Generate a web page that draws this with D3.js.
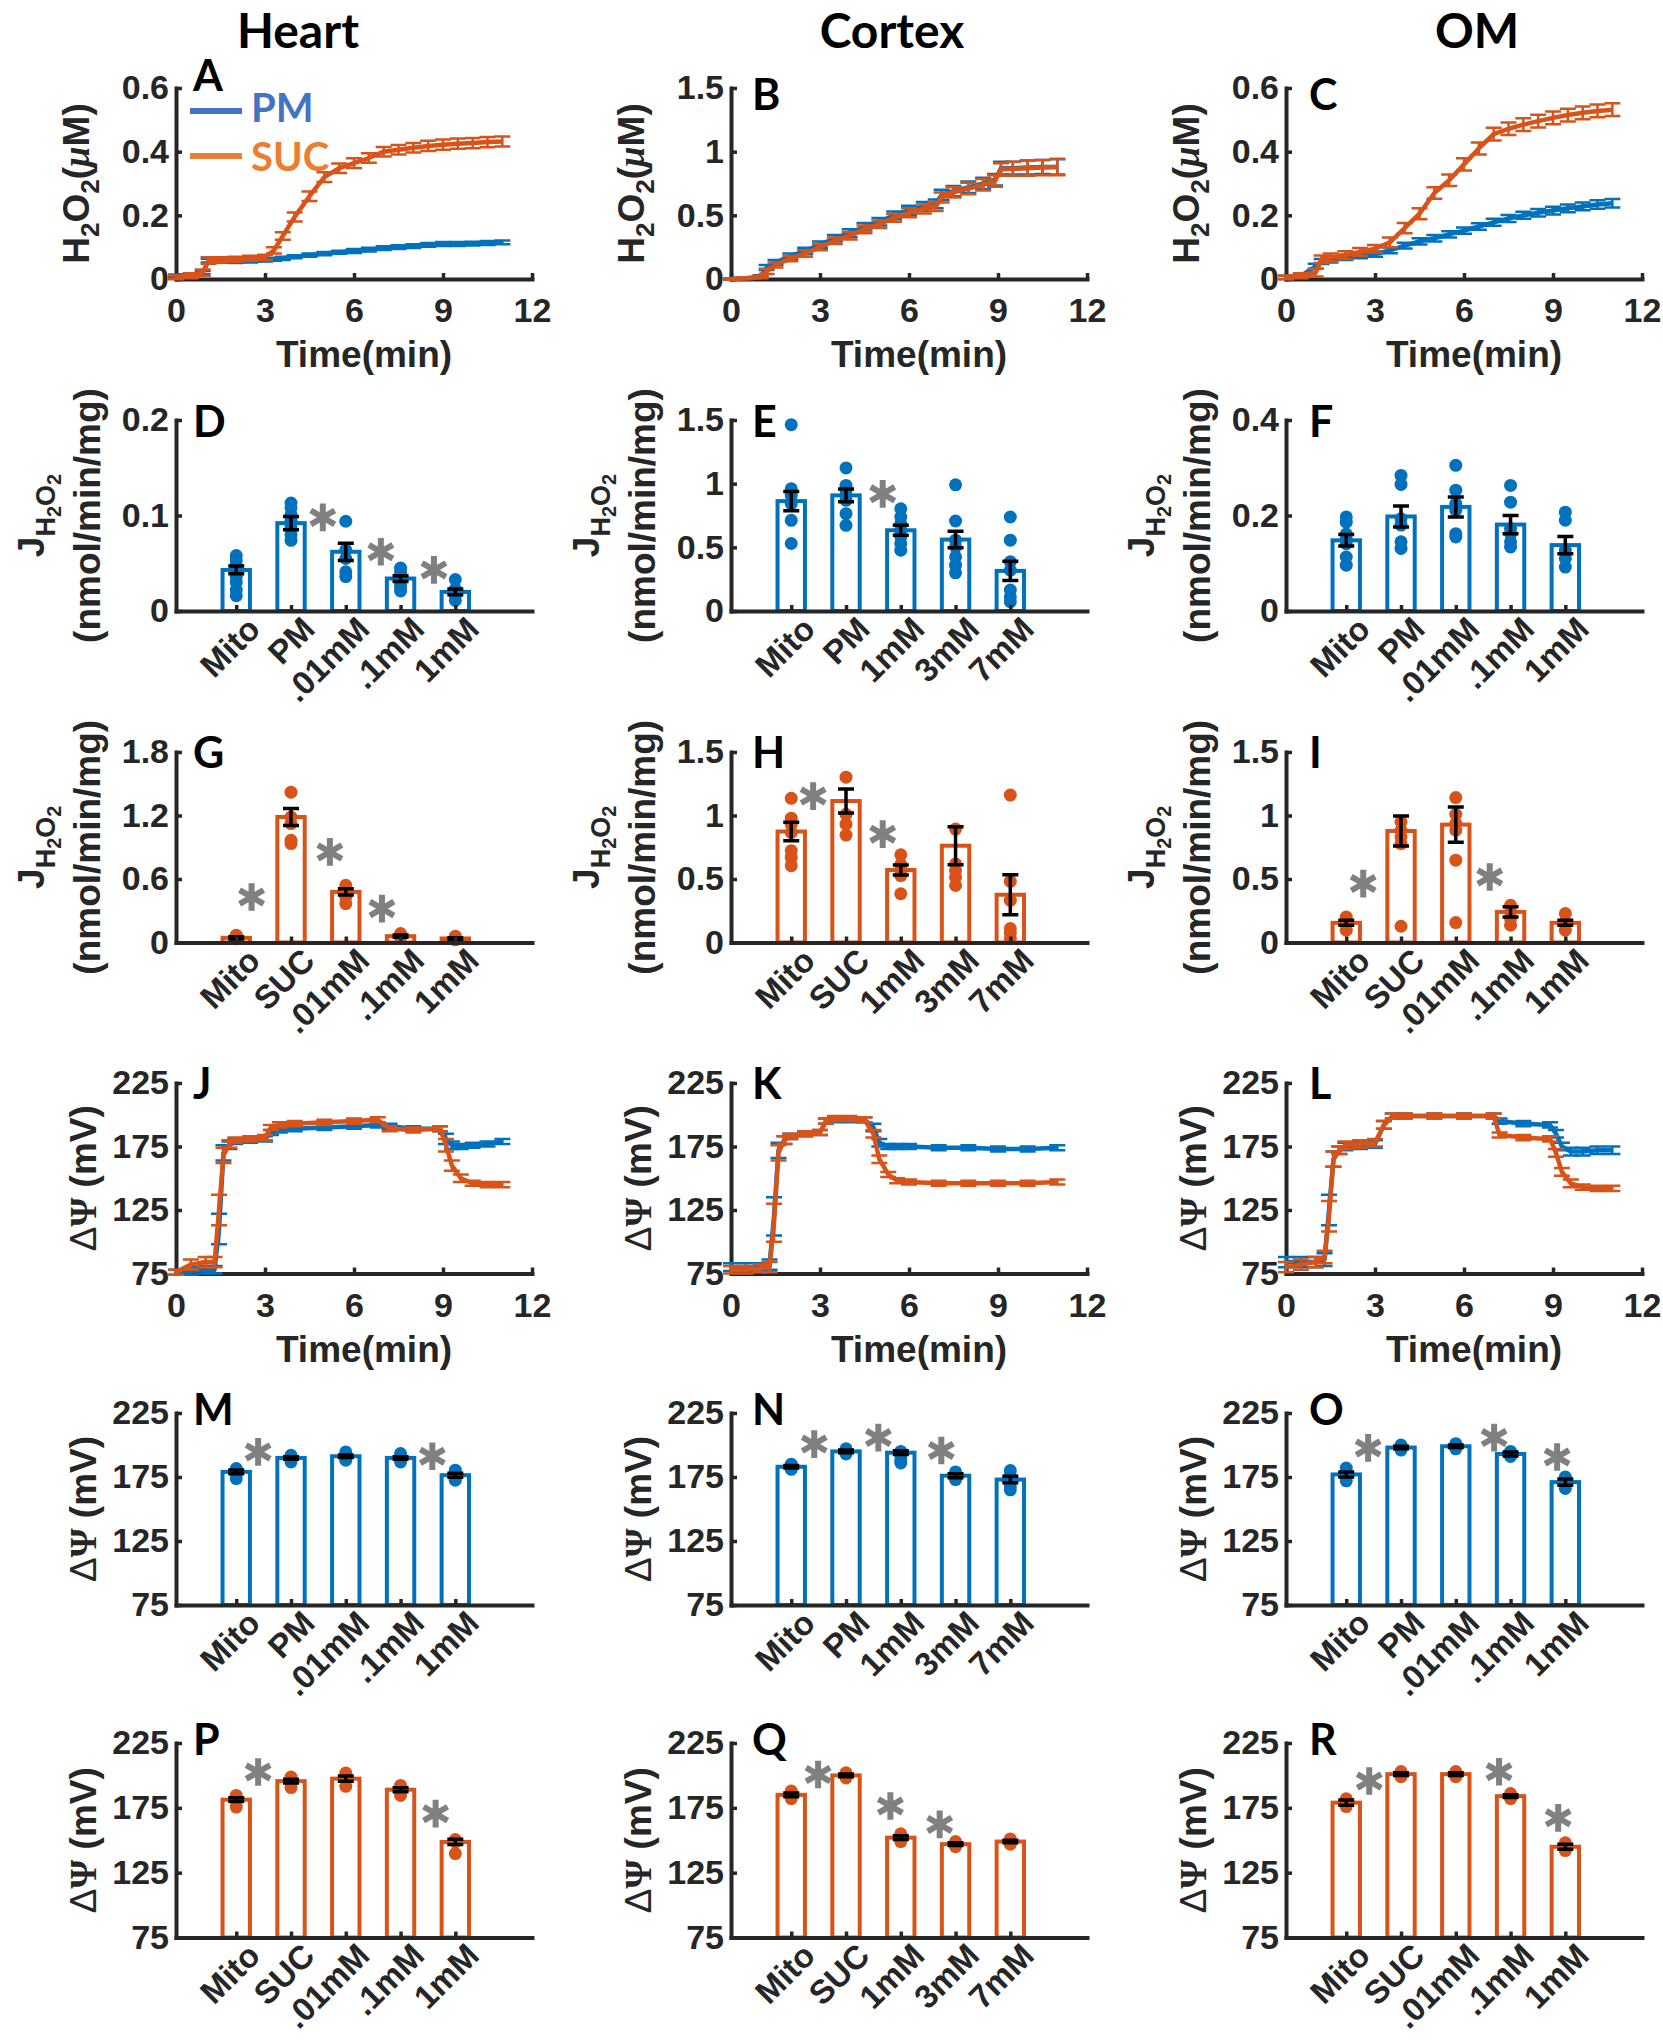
<!DOCTYPE html>
<html>
<head>
<meta charset="utf-8">
<script src="https://cdn.jsdelivr.net/npm/d3@7"></script>
<style>
  body { margin: 0; background: #fff; }
</style>
</head>
<body>
<div id="chart"></div>
<script>
// ---------- data ----------
const tissues = ["Heart", "Cortex", "OM"];
const catsHeartPM = ["Mito", "PM", ".01mM", ".1mM", "1mM"];
const catsCortexPM = ["Mito", "PM", "1mM", "3mM", "7mM"];
const catsHeartSUC = ["Mito", "SUC", ".01mM", ".1mM", "1mM"];
const catsCortexSUC = ["Mito", "SUC", "1mM", "3mM", "7mM"];
const timeTicks = [0, 3, 6, 9, 12];
const legendLabels = ["PM", "SUC"];

// H2O2 time courses (uM)
const timeA = [0, 0.5, 0.9, 1.1, 1.5, 2, 2.5, 3, 3.3, 3.6, 4, 4.5, 5, 5.5, 6, 6.5, 7, 7.5, 8, 8.5, 9, 9.5, 10, 10.5, 11];
const pmA = [0.01, 0.012, 0.02, 0.058, 0.056, 0.055, 0.057, 0.06, 0.062, 0.065, 0.07, 0.075, 0.08, 0.084, 0.088, 0.092, 0.097, 0.1, 0.103, 0.107, 0.11, 0.11, 0.111, 0.113, 0.115];
const pmErrA = [0.004, 0.004, 0.005, 0.006, 0.005, 0.005, 0.005, 0.005, 0.005, 0.005, 0.005, 0.005, 0.005, 0.005, 0.006, 0.006, 0.006, 0.006, 0.006, 0.006, 0.006, 0.006, 0.006, 0.006, 0.006];
const sucA = [0.005, 0.01, 0.02, 0.058, 0.06, 0.062, 0.065, 0.068, 0.09, 0.135, 0.195, 0.26, 0.32, 0.348, 0.364, 0.38, 0.4, 0.406, 0.412, 0.418, 0.422, 0.425, 0.427, 0.43, 0.432];
const sucErrA = [0.006, 0.008, 0.01, 0.01, 0.008, 0.008, 0.008, 0.008, 0.01, 0.012, 0.014, 0.015, 0.015, 0.015, 0.015, 0.015, 0.015, 0.015, 0.015, 0.016, 0.016, 0.016, 0.016, 0.016, 0.016];

const timeB = [0, 0.5, 1, 1.2, 1.5, 2, 2.5, 3, 3.5, 4, 4.5, 5, 5.5, 6, 6.5, 6.9, 7.1, 7.5, 8, 8.5, 8.9, 9.1, 9.5, 10, 10.5, 11];
const pmB = [0, 0.005, 0.02, 0.09, 0.13, 0.18, 0.22, 0.27, 0.32, 0.36, 0.41, 0.45, 0.5, 0.54, 0.57, 0.59, 0.66, 0.69, 0.72, 0.75, 0.78, 0.87, 0.87, 0.875, 0.88, 0.88];
const pmErrB = [0.005, 0.005, 0.01, 0.02, 0.02, 0.02, 0.025, 0.025, 0.025, 0.03, 0.03, 0.03, 0.03, 0.035, 0.035, 0.035, 0.04, 0.04, 0.045, 0.045, 0.045, 0.05, 0.05, 0.055, 0.055, 0.06];
const sucB = [0, 0.005, 0.015, 0.06, 0.11, 0.16, 0.2, 0.25, 0.3, 0.34, 0.39, 0.43, 0.48, 0.52, 0.55, 0.57, 0.64, 0.68, 0.71, 0.74, 0.77, 0.86, 0.865, 0.87, 0.875, 0.88];
const sucErrB = [0.005, 0.005, 0.01, 0.02, 0.02, 0.02, 0.025, 0.025, 0.025, 0.03, 0.03, 0.03, 0.03, 0.035, 0.035, 0.035, 0.04, 0.04, 0.045, 0.045, 0.045, 0.05, 0.055, 0.06, 0.06, 0.065];

const timeC = [0, 0.5, 1, 1.2, 1.5, 2, 2.5, 3, 3.5, 4, 4.5, 5, 5.5, 6, 6.5, 7, 7.5, 8, 8.5, 9, 9.5, 10, 10.5, 11];
const pmC = [0.005, 0.01, 0.04, 0.055, 0.06, 0.068, 0.073, 0.078, 0.09, 0.105, 0.118, 0.128, 0.14, 0.152, 0.165, 0.178, 0.19, 0.2, 0.208, 0.215, 0.222, 0.228, 0.234, 0.238];
const pmErrC = [0.005, 0.006, 0.008, 0.008, 0.008, 0.008, 0.008, 0.008, 0.009, 0.009, 0.01, 0.01, 0.01, 0.01, 0.01, 0.011, 0.011, 0.011, 0.012, 0.012, 0.012, 0.012, 0.013, 0.013];
const sucC = [0.005, 0.01, 0.02, 0.062, 0.068, 0.075, 0.085, 0.095, 0.115, 0.16, 0.205, 0.27, 0.31, 0.36, 0.41, 0.455, 0.472, 0.485, 0.496, 0.506, 0.515, 0.522, 0.528, 0.532];
const sucErrC = [0.006, 0.008, 0.012, 0.012, 0.012, 0.012, 0.012, 0.012, 0.015, 0.016, 0.017, 0.018, 0.018, 0.019, 0.019, 0.02, 0.02, 0.02, 0.02, 0.02, 0.02, 0.02, 0.02, 0.02];

// membrane potential time courses (mV)
const timeJ = [0, 0.5, 1, 1.3, 1.45, 1.6, 1.8, 2, 2.5, 3, 3.2, 3.5, 4, 5, 6, 6.8, 7.2, 8, 8.9, 9.1, 9.3, 9.6, 10, 10.5, 11];
const pmJ = [76, 77, 78, 78, 110, 170, 176, 179, 180, 181, 186, 188, 189, 190, 191, 192, 191, 189, 189, 181, 176, 175, 176, 177, 179];
const pmErrJ = [2, 3, 3, 3, 12, 6, 3, 2, 2, 2, 2, 2, 2, 2, 2, 2, 2, 2, 2, 4, 3, 2, 2, 2, 2];
const sucJ = [76, 82, 84, 84, 125, 168, 177, 180, 181, 182, 190, 192, 193, 194, 195, 196, 189, 188, 189, 176, 160, 150, 146, 145, 145];
const sucErrJ = [2, 4, 4, 4, 12, 6, 3, 2, 2, 2, 2, 2, 2, 2, 2, 2, 2, 2, 2, 5, 4, 3, 2, 2, 2];

const timeK = [0, 0.5, 1, 1.3, 1.45, 1.6, 1.8, 2, 2.5, 3, 3.2, 3.5, 4, 4.5, 4.8, 5, 5.3, 5.6, 6, 7, 8, 9, 10, 11];
const pmK = [80, 80, 80, 82, 120, 172, 180, 183, 185, 186, 195, 196, 196, 196, 190, 178, 175, 175, 175, 174, 174, 173, 173, 174];
const pmErrK = [3, 3, 3, 4, 15, 6, 3, 2, 2, 2, 2, 2, 2, 2, 3, 3, 2, 2, 2, 2, 2, 2, 2, 2];
const sucK = [78, 78, 79, 80, 115, 170, 180, 183, 185, 186, 195, 197, 197, 196, 185, 165, 153, 148, 147, 146, 146, 146, 146, 147];
const sucErrK = [3, 3, 3, 4, 15, 6, 3, 2, 2, 2, 2, 2, 2, 2, 3, 3, 2, 2, 2, 2, 2, 2, 2, 2];

const timeL = [0, 0.5, 1, 1.3, 1.45, 1.6, 1.8, 2, 2.5, 3, 3.3, 3.6, 4, 5, 6, 7, 7.2, 8, 8.9, 9.1, 9.3, 9.6, 10, 10.5, 11];
const pmL = [84, 84, 84, 86, 125, 165, 172, 175, 176, 177, 192, 199, 199, 199, 199, 199, 195, 193, 192, 185, 175, 171, 171, 172, 172];
const pmErrL = [4, 4, 4, 5, 12, 6, 3, 3, 3, 3, 3, 2, 2, 2, 2, 2, 2, 2, 2, 3, 3, 3, 3, 3, 3];
const sucL = [80, 82, 84, 88, 120, 165, 172, 176, 177, 178, 192, 199, 199, 199, 199, 199, 184, 182, 181, 170, 155, 146, 143, 142, 142];
const sucErrL = [4, 4, 4, 5, 12, 6, 3, 3, 3, 3, 3, 2, 2, 2, 2, 2, 2, 2, 2, 3, 3, 3, 2, 2, 2];

// J H2O2 bar panels (nmol/min/mg); stars = [position from first bar, value]
const meanD = [0.043, 0.092, 0.062, 0.034, 0.020];
const errD = [0.004, 0.007, 0.009, 0.003, 0.003];
const dotsD = [[0.058, 0.053, 0.047, 0.042, 0.036, 0.030, 0.022, 0.016], [0.113, 0.108, 0.101, 0.095, 0.088, 0.080, 0.074], [0.094, 0.064, 0.055, 0.041, 0.036], [0.045, 0.041, 0.037, 0.034, 0.030, 0.025, 0.021], [0.033, 0.023, 0.019, 0.016, 0.011]];
const starsD = [[1.58, 0.098], [2.64, 0.062], [3.61, 0.043]];

const meanE = [0.863, 0.908, 0.634, 0.561, 0.315];
const errE = [0.075, 0.05, 0.04, 0.065, 0.075];
const dotsE = [[1.463, 0.96, 0.908, 0.843, 0.712, 0.53], [1.124, 0.986, 0.947, 0.869, 0.764, 0.673], [0.803, 0.738, 0.686, 0.634, 0.581, 0.53, 0.477], [0.991, 0.707, 0.556, 0.503, 0.425, 0.36, 0.3], [0.738, 0.556, 0.386, 0.32, 0.164, 0.112, 0.073]];
const starsE = [[1.67, 0.92]];

const meanF = [0.148, 0.198, 0.218, 0.181, 0.138];
const errF = [0.012, 0.022, 0.021, 0.019, 0.018];
const dotsF = [[0.197, 0.186, 0.161, 0.15, 0.141, 0.113, 0.096], [0.284, 0.265, 0.193, 0.18, 0.145, 0.131], [0.305, 0.253, 0.225, 0.211, 0.162, 0.155], [0.263, 0.228, 0.173, 0.162, 0.145, 0.134], [0.207, 0.19, 0.127, 0.11, 0.092]];
const starsF = [];

const meanG = [0.044, 1.186, 0.478, 0.06, 0.038];
const errG = [0.01, 0.08, 0.03, 0.01, 0.008];
const dotsG = [[0.069, 0.05, 0.035], [1.42, 1.186, 1.124, 0.966, 0.935], [0.541, 0.5, 0.478, 0.43, 0.368], [0.085, 0.06, 0.045], [0.06, 0.035, 0.025]];
const starsG = [[0.28, 0.43], [1.71, 0.856], [2.66, 0.32]];

const meanH = [0.874, 1.114, 0.571, 0.762, 0.376];
const errH = [0.072, 0.094, 0.04, 0.15, 0.157];
const dotsH = [[1.135, 0.979, 0.932, 0.867, 0.723, 0.67, 0.605], [1.302, 1.01, 0.932, 0.846], [0.691, 0.613, 0.57, 0.527, 0.384], [0.893, 0.619, 0.567, 0.514, 0.449], [1.161, 0.482, 0.331, 0.11, 0.075, 0.031]];
const starsH = [[0.4, 1.153], [1.67, 0.853]];

const meanI = [0.155, 0.878, 0.928, 0.241, 0.155];
const errI = [0.02, 0.118, 0.138, 0.04, 0.02];
const dotsI = [[0.2, 0.15, 0.097], [0.949, 0.884, 0.831, 0.779, 0.128], [1.141, 1.01, 0.936, 0.884, 0.648, 0.157], [0.293, 0.241, 0.189, 0.136], [0.228, 0.162, 0.097]];
const starsI = [[0.31, 0.464], [2.62, 0.516]];

// membrane potential bar panels (mV)
const meanM = [179, 189.9, 191.2, 189.9, 176.4];
const errM = [1.5, 1, 1, 1, 1.5];
const dotsM = [[181.6, 177.7, 173.8], [192, 189.9, 186.8], [194.6, 191.2, 188.1], [193.3, 189.9, 186.8], [180.3, 176.4, 172.5]];
const starsM = [[0.4, 194.6], [3.58, 191.2]];

const meanN = [183, 195, 194, 176, 173];
const errN = [1, 1, 1.5, 1.5, 2.5];
const dotsN = [[185, 183, 181], [197, 195, 193], [195, 192, 188, 186], [179, 177, 175, 173], [180, 176, 172, 168, 165]];
const starsN = [[0.42, 200.7], [1.59, 205.8], [2.74, 195.7]];

const meanO = [177, 198, 199, 193, 171];
const errO = [2, 1, 1, 1.5, 2.5];
const dotsO = [[182, 178, 175, 172], [200, 198, 196], [201, 199, 197], [195, 193, 191], [175, 172, 170, 166]];
const starsO = [[0.4, 197.7], [2.7, 205.8], [3.85, 190.6]];

const meanP = [181.3, 195.6, 197.5, 189, 148.7];
const errP = [1.5, 1.5, 2, 1.5, 2];
const dotsP = [[184.6, 181, 175.6], [198.7, 194.9, 190.6], [201.8, 197.5, 191.6], [192.3, 189, 184.6], [150.5, 148.7, 139.7]];
const starsP = [[0.4, 202.6], [3.64, 170.5]];

const meanQ = [185, 200, 152, 147, 149];
const errQ = [1.5, 1, 1.5, 1, 1];
const dotsQ = [[188, 185, 182], [202, 200, 198], [155, 152, 149], [149, 147, 145], [151, 149, 147]];
const starsQ = [[0.49, 200.7], [1.81, 176.4], [2.71, 162.2]];

const meanR = [179, 201, 201, 184, 145];
const errR = [2, 1, 1, 1, 2];
const dotsR = [[182, 179, 176], [203, 201, 199], [203, 201, 199], [186, 184, 182], [148, 145, 142]];
const starsR = [[0.42, 195.7], [2.79, 202.8], [3.87, 167.3]];

// ---------- layout / style ----------
const W = 1663, H = 2040;
const colX = [176, 731, 1286];
const colW = [356, 356, 356];
const rowY = [88, 420, 752, 1083, 1413, 1743];
const rowH = [191, 191, 190.5, 190.5, 192, 194.5];
const letterDX = [17, 21, 23];
const BLUE = "#0072BD", ORANGE = "#D95319", AXIS = "#262626", STAR = "#808080";
const SANS = "'Liberation Sans', Arial, sans-serif";
const CAL = "Lato, 'Open Sans', sans-serif";
const TICK_FS = 34, LABEL_FS = 37;

const svg = d3.select("#chart").append("svg")
    .attr("width", W)
    .attr("height", H)
    .attr("viewBox", [0, 0, W, H])
    .style("background", "#fff");

// column titles
const titleX = [298, 892, 1477];
svg.selectAll(".title")
    .data(tissues)
    .join("text")
    .attr("class", "title")
    .attr("x", (d, i) => titleX[i])
    .attr("y", 48)
    .attr("text-anchor", "middle")
    .attr("font-family", CAL)
    .attr("font-weight", "bold")
    .attr("font-size", 48)
    .attr("fill", "#000")
    .text(d => d);

function styleAxis(sel) {
    sel.attr("color", AXIS)
        .attr("font-family", SANS)
        .attr("font-weight", "bold")
        .attr("font-size", TICK_FS);
    sel.select(".domain").attr("stroke-width", 4).attr("stroke-linecap", "square");
    sel.selectAll(".tick line").attr("stroke-width", 3.5);
}

function panelLetter(g, p) {
    g.append("text")
        .attr("x", letterDX[p.col])
        .attr("y", p.ly)
        .attr("font-family", CAL)
        .attr("font-weight", "bold")
        .attr("font-size", 43)
        .attr("fill", "#000")
        .text(p.letter);
}

// y labels with sub/superscripts
function labelText(g, dx, h) {
    return g.append("text")
        .attr("transform", `translate(${dx},${h / 2}) rotate(-90)`)
        .attr("text-anchor", "middle")
        .attr("font-family", SANS).attr("font-weight", "bold")
        .attr("font-size", LABEL_FS).attr("fill", AXIS);
}

function labelH2O2(g, h) {
    const t = labelText(g, -87, h);
    t.append("tspan").text("H");
    t.append("tspan").attr("font-size", 26).attr("dy", 10).text("2");
    t.append("tspan").attr("dy", -10).text("O");
    t.append("tspan").attr("font-size", 26).attr("dy", 10).text("2");
    t.append("tspan").attr("dy", -10).text("(");
    t.append("tspan").attr("font-family", "'Liberation Serif', serif").attr("font-style", "italic").text("\u03bc");
    t.append("tspan").text("M)");
}

function labelJ(g, h) {
    const t = labelText(g, -132, h);
    t.append("tspan").text("J");
    t.append("tspan").attr("font-size", 27).attr("dy", 11).text("H");
    t.append("tspan").attr("font-size", 20).attr("dy", 6).text("2");
    t.append("tspan").attr("font-size", 27).attr("dy", -6).text("O");
    t.append("tspan").attr("font-size", 20).attr("dy", 6).text("2");
    labelText(g, -76, h).text("(nmol/min/mg)");
}

function labelPsi(g, h) {
    const t = labelText(g, -80, h);
    t.append("tspan").attr("font-weight", "normal").text("\u0394");
    t.append("tspan").attr("font-family", "'Liberation Serif', serif").text("\u03a8");
    t.append("tspan").text(" (mV)");
}

// ---------- time course panels ----------
function linePanel(p) {
    const w = colW[p.col], h = rowH[p.row];
    const g = svg.append("g").attr("transform", `translate(${colX[p.col]},${rowY[p.row]})`);
    const x = d3.scaleLinear().domain([0, 12]).range([0, w]);
    const y = d3.scaleLinear().domain(p.ylim).range([h, 0]);

    g.append("g")
        .attr("transform", `translate(0,${h})`)
        .call(d3.axisBottom(x).tickValues(timeTicks).tickSize(-6).tickSizeOuter(0).tickPadding(19))
        .call(styleAxis);
    g.append("g")
        .call(d3.axisLeft(y).tickValues(p.yticks).tickFormat(d3.format("")).tickSize(-6).tickSizeOuter(0).tickPadding(7))
        .call(styleAxis);

    p.series.forEach(s => {
        const pts = s.time.map((t, i) => ({ t: t, m: s.mean[i], e: s.err[i] }));
        g.append("g")
            .attr("stroke", s.color)
            .attr("stroke-width", 2.5)
            .attr("fill", "none")
            .selectAll("path")
            .data(pts)
            .join("path")
            .attr("d", d => {
                const cx = x(d.t), lo = y(d.m - d.e), hi = y(d.m + d.e);
                return `M${cx},${lo}V${hi}M${cx - 8},${lo}H${cx + 8}M${cx - 8},${hi}H${cx + 8}`;
            });
        g.append("path")
            .datum(pts)
            .attr("fill", "none")
            .attr("stroke", s.color)
            .attr("stroke-width", 4.5)
            .attr("stroke-linejoin", "round")
            .attr("d", d3.line().x(d => x(d.t)).y(d => y(d.m)));
    });

    if (p.ylabel === "h2o2") labelH2O2(g, h); else labelPsi(g, h);

    g.append("text")
        .attr("x", w / 2 + 10)
        .attr("y", h + 88)
        .attr("text-anchor", "middle")
        .attr("font-family", SANS).attr("font-weight", "bold")
        .attr("font-size", LABEL_FS).attr("fill", AXIS)
        .text("Time(min)");

    panelLetter(g, p);
    return g;
}

// ---------- bar panels ----------
function barPanel(p) {
    const w = colW[p.col], h = rowH[p.row];
    const g = svg.append("g").attr("transform", `translate(${colX[p.col]},${rowY[p.row]})`);
    const x = d3.scaleLinear().domain([-0.1, 6.4]).range([0, w]);
    const y = d3.scaleLinear().domain(p.ylim).range([h, 0]);
    const bw = x(0.5) - x(0);

    g.append("g")
        .selectAll("rect")
        .data(p.mean)
        .join("rect")
        .attr("x", (d, i) => x(i + 1) - bw / 2)
        .attr("y", d => y(d))
        .attr("width", bw)
        .attr("height", d => y(p.ylim[0]) - y(d))
        .attr("fill", "#fff")
        .attr("stroke", p.color)
        .attr("stroke-width", 4);

    g.append("g")
        .selectAll("g")
        .data(p.dots)
        .join("g")
        .attr("fill", p.color)
        .selectAll("circle")
        .data((d, i) => d.map(v => ({ i: i, v: v })))
        .join("circle")
        .attr("cx", d => x(d.i + 1))
        .attr("cy", d => y(d.v))
        .attr("r", 6.5);

    g.append("g")
        .attr("stroke", "#000")
        .attr("stroke-width", 3.5)
        .attr("fill", "none")
        .selectAll("path")
        .data(p.mean)
        .join("path")
        .attr("d", (d, i) => {
            const cx = x(i + 1), lo = y(d - p.err[i]), hi = y(d + p.err[i]);
            return `M${cx},${lo}V${hi}M${cx - 8},${lo}H${cx + 8}M${cx - 8},${hi}H${cx + 8}`;
        });

    const xa = g.append("g")
        .attr("transform", `translate(0,${h})`)
        .call(d3.axisBottom(x).tickValues([1, 2, 3, 4, 5]).tickFormat(i => p.cats[i - 1]).tickSize(-6).tickSizeOuter(0))
        .call(styleAxis);
    xa.selectAll(".tick text")
        .attr("x", 0).attr("y", 0).attr("dy", "0.35em")
        .attr("text-anchor", "end")
        .attr("font-size", 33)
        .attr("transform", "translate(17,12) rotate(-45)");
    g.append("g")
        .call(d3.axisLeft(y).tickValues(p.yticks).tickFormat(d3.format("")).tickSize(-6).tickSizeOuter(0).tickPadding(7))
        .call(styleAxis);

    g.append("g")
        .selectAll("path")
        .data(p.stars)
        .join("path")
        .attr("transform", d => `translate(${x(d[0] + 1)},${y(d[1])})`)
        .attr("d", d3.symbol(d3.symbolAsterisk, 540))
        .attr("fill", "none")
        .attr("stroke", STAR)
        .attr("stroke-width", 6);

    if (p.ylabel === "j") labelJ(g, h); else labelPsi(g, h);
    panelLetter(g, p);
    return g;
}

// ---------- panel table ----------
const mk = (time, pm, pmErr, suc, sucErr) => [
    { time: time, mean: pm, err: pmErr, color: BLUE },
    { time: time, mean: suc, err: sucErr, color: ORANGE }
];

const lineTable = [
    { letter: "A", col: 0, row: 0, ylim: [0, 0.6], yticks: [0, 0.2, 0.4, 0.6], ylabel: "h2o2", ly: 3, series: mk(timeA, pmA, pmErrA, sucA, sucErrA) },
    { letter: "B", col: 1, row: 0, ylim: [0, 1.5], yticks: [0, 0.5, 1, 1.5], ylabel: "h2o2", ly: 22, series: mk(timeB, pmB, pmErrB, sucB, sucErrB) },
    { letter: "C", col: 2, row: 0, ylim: [0, 0.6], yticks: [0, 0.2, 0.4, 0.6], ylabel: "h2o2", ly: 22, series: mk(timeC, pmC, pmErrC, sucC, sucErrC) },
    { letter: "J", col: 0, row: 3, ylim: [75, 225], yticks: [75, 125, 175, 225], ylabel: "psi", ly: 16, series: mk(timeJ, pmJ, pmErrJ, sucJ, sucErrJ) },
    { letter: "K", col: 1, row: 3, ylim: [75, 225], yticks: [75, 125, 175, 225], ylabel: "psi", ly: 16, series: mk(timeK, pmK, pmErrK, sucK, sucErrK) },
    { letter: "L", col: 2, row: 3, ylim: [75, 225], yticks: [75, 125, 175, 225], ylabel: "psi", ly: 16, series: mk(timeL, pmL, pmErrL, sucL, sucErrL) }
];

const barTable = [
    { letter: "D", col: 0, row: 1, ylim: [0, 0.2], yticks: [0, 0.1, 0.2], ylabel: "j", color: BLUE, cats: catsHeartPM, mean: meanD, err: errD, dots: dotsD, stars: starsD },
    { letter: "E", col: 1, row: 1, ylim: [0, 1.5], yticks: [0, 0.5, 1, 1.5], ylabel: "j", color: BLUE, cats: catsCortexPM, mean: meanE, err: errE, dots: dotsE, stars: starsE },
    { letter: "F", col: 2, row: 1, ylim: [0, 0.4], yticks: [0, 0.2, 0.4], ylabel: "j", color: BLUE, cats: catsHeartPM, mean: meanF, err: errF, dots: dotsF, stars: starsF },
    { letter: "G", col: 0, row: 2, ylim: [0, 1.8], yticks: [0, 0.6, 1.2, 1.8], ylabel: "j", color: ORANGE, cats: catsHeartSUC, mean: meanG, err: errG, dots: dotsG, stars: starsG },
    { letter: "H", col: 1, row: 2, ylim: [0, 1.5], yticks: [0, 0.5, 1, 1.5], ylabel: "j", color: ORANGE, cats: catsCortexSUC, mean: meanH, err: errH, dots: dotsH, stars: starsH },
    { letter: "I", col: 2, row: 2, ylim: [0, 1.5], yticks: [0, 0.5, 1, 1.5], ylabel: "j", color: ORANGE, cats: catsHeartSUC, mean: meanI, err: errI, dots: dotsI, stars: starsI },
    { letter: "M", col: 0, row: 4, ylim: [75, 225], yticks: [75, 125, 175, 225], ylabel: "psi", color: BLUE, cats: catsHeartPM, mean: meanM, err: errM, dots: dotsM, stars: starsM },
    { letter: "N", col: 1, row: 4, ylim: [75, 225], yticks: [75, 125, 175, 225], ylabel: "psi", color: BLUE, cats: catsCortexPM, mean: meanN, err: errN, dots: dotsN, stars: starsN },
    { letter: "O", col: 2, row: 4, ylim: [75, 225], yticks: [75, 125, 175, 225], ylabel: "psi", color: BLUE, cats: catsHeartPM, mean: meanO, err: errO, dots: dotsO, stars: starsO },
    { letter: "P", col: 0, row: 5, ylim: [75, 225], yticks: [75, 125, 175, 225], ylabel: "psi", color: ORANGE, cats: catsHeartSUC, mean: meanP, err: errP, dots: dotsP, stars: starsP },
    { letter: "Q", col: 1, row: 5, ylim: [75, 225], yticks: [75, 125, 175, 225], ylabel: "psi", color: ORANGE, cats: catsCortexSUC, mean: meanQ, err: errQ, dots: dotsQ, stars: starsQ },
    { letter: "R", col: 2, row: 5, ylim: [75, 225], yticks: [75, 125, 175, 225], ylabel: "psi", color: ORANGE, cats: catsHeartSUC, mean: meanR, err: errR, dots: dotsR, stars: starsR }
];

// letter baseline offsets for bar panels
barTable.forEach(p => { p.ly = p.row === 1 ? 17 : (p.row === 2 ? 16 : 12); });

barTable.forEach(barPanel);
const lineGroups = lineTable.map(linePanel);

// legend in panel A
const legendColors = ["#4472C4", "#ED7D31"];
const leg = lineGroups[0].append("g").attr("transform", "translate(14,23)");
leg.selectAll("line")
    .data(legendLabels)
    .join("line")
    .attr("x1", 0).attr("x2", 52)
    .attr("y1", (d, i) => i * 45).attr("y2", (d, i) => i * 45)
    .attr("stroke", (d, i) => legendColors[i])
    .attr("stroke-width", 6);
leg.selectAll("text")
    .data(legendLabels)
    .join("text")
    .attr("x", 61)
    .attr("y", (d, i) => i === 0 ? 11 : 60)
    .attr("font-family", CAL)
    .attr("font-weight", "bold")
    .attr("font-size", 40)
    .attr("fill", (d, i) => legendColors[i])
    .text(d => d);
</script>
</body>
</html>
